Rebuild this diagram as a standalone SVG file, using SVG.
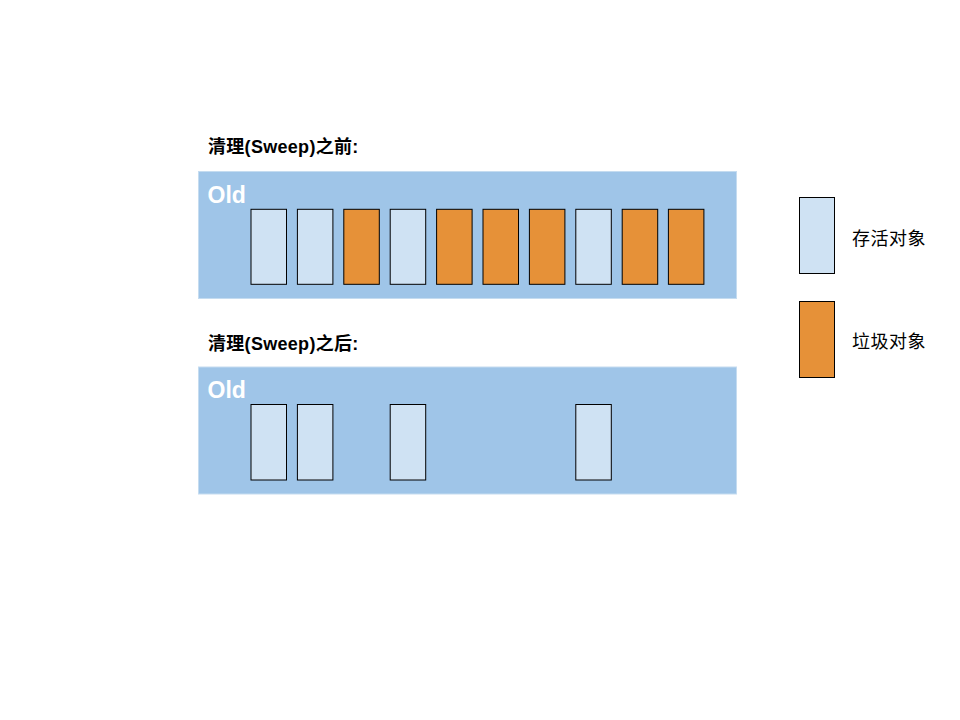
<svg xmlns="http://www.w3.org/2000/svg" width="960" height="720" viewBox="0 0 960 720">
<style>
.panel{fill:#9FC5E8;stroke:#C5DCF0;stroke-width:1}
.live{fill:#CFE2F3;stroke:#000;stroke-width:1}
.dead{fill:#E69138;stroke:#000;stroke-width:1}
.title{font-family:"Liberation Sans","Noto Sans CJK SC",sans-serif;font-size:18px;font-weight:bold;fill:#000;letter-spacing:0.3px}
.old{font-family:"Liberation Sans",sans-serif;font-size:23px;font-weight:bold;fill:#fff}
.legend{font-family:"Liberation Sans","Noto Sans CJK SC",sans-serif;font-size:18px;fill:#000;letter-spacing:0.5px}
</style>
<rect width="960" height="720" fill="#fff"/>
<g id="before">
<text class="title" x="208" y="152.5">清理(Sweep)之前:</text>
<rect class="panel" x="198.5" y="171.5" width="538" height="127"/>
<text class="old" x="207.5" y="202.5">Old</text>
<rect class="live" x="251" y="209.3" width="35.5" height="75"/>
<rect class="live" x="297.4" y="209.3" width="35.5" height="75"/>
<rect class="dead" x="343.8" y="209.3" width="35.5" height="75"/>
<rect class="live" x="390.2" y="209.3" width="35.5" height="75"/>
<rect class="dead" x="436.6" y="209.3" width="35.5" height="75"/>
<rect class="dead" x="483" y="209.3" width="35.5" height="75"/>
<rect class="dead" x="529.4" y="209.3" width="35.5" height="75"/>
<rect class="live" x="575.8" y="209.3" width="35.5" height="75"/>
<rect class="dead" x="622.2" y="209.3" width="35.5" height="75"/>
<rect class="dead" x="668.4" y="209.3" width="35.5" height="75"/>
</g>
<g id="after">
<text class="title" x="208" y="350">清理(Sweep)之后:</text>
<rect class="panel" x="198.5" y="367" width="538" height="127"/>
<text class="old" x="207.5" y="398">Old</text>
<rect class="live" x="251" y="404.5" width="35.5" height="75.5"/>
<rect class="live" x="297.4" y="404.5" width="35.5" height="75.5"/>
<rect class="live" x="390.2" y="404.5" width="35.5" height="75.5"/>
<rect class="live" x="575.8" y="404.5" width="35.5" height="75.5"/>
</g>
<g id="legend-live">
<rect class="live" x="799.5" y="197.5" width="35" height="76"/>
<text class="legend" x="852" y="244.5">存活对象</text>
</g>
<g id="legend-dead">
<rect class="dead" x="799.5" y="301.5" width="35" height="76"/>
<text class="legend" x="852" y="348">垃圾对象</text>
</g>
<g id="connectors"/>
</svg>
